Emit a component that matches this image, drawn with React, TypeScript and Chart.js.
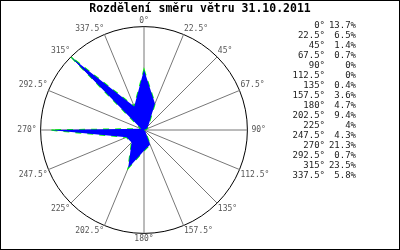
import { useEffect, useRef } from "react";
import { Chart, registerables } from "chart.js";

Chart.register(...registerables);

const chartTitle = "Rozdělení směru větru 31.10.2011";
const directions = ["0°", "22.5°", "45°", "67.5°", "90°", "112.5°", "135°", "157.5°", "180°", "202.5°", "225°", "247.5°", "270°", "292.5°", "315°", "337.5°"];
const shares = [13.7, 6.5, 1.4, 0.7, 0, 0, 0.4, 3.6, 4.7, 9.4, 4, 4.3, 21.3, 0.7, 23.5, 5.8];
const shareLabels = ["13.7%", "6.5%", "1.4%", "0.7%", "0%", "0%", "0.4%", "3.6%", "4.7%", "9.4%", "4%", "4.3%", "21.3%", "0.7%", "23.5%", "5.8%"];
const scaleMax = 23.5;

const MONO = "'DejaVu Sans Mono', monospace";

export default function App() {
  const canvasRef = useRef<HTMLCanvasElement | null>(null);

  useEffect(() => {
    document.body.style.margin = "0";
    const canvas = canvasRef.current;
    if (!canvas) return;
    const chart = new Chart(canvas, {
      type: "radar",
      data: {
        labels: directions,
        datasets: [
          {
            data: shares,
            fill: true,
            backgroundColor: "#0000ff",
            borderColor: "#0000ff",
            borderWidth: 0,
            pointRadius: 0,
            tension: 0,
          },
          {
            data: shares,
            fill: false,
            borderColor: "#00ff00",
            borderWidth: 1.5,
            borderDash: [6, 6],
            pointRadius: 0,
            tension: 0,
          },
        ],
      },
      options: {
        responsive: false,
        maintainAspectRatio: false,
        devicePixelRatio: 1,
        animation: false,
        events: [],
        layout: { padding: { left: 0, top: 16, right: 112, bottom: 6 } },
        plugins: {
          legend: { display: false },
          title: { display: false },
          tooltip: { enabled: false },
        },
        scales: {
          r: {
            min: 0,
            max: scaleMax,
            beginAtZero: true,
            ticks: { display: false, stepSize: scaleMax },
            grid: { circular: true, color: "#000000", lineWidth: 1 },
            angleLines: { display: true, color: "#777777", lineWidth: 1 },
            pointLabels: {
              display: true,
              color: "#555555",
              font: { family: MONO, size: 8 },
              padding: (ctx: any) => (ctx.index === 4 || ctx.index === 12 ? 4 : 1),
            },
          },
        },
      },
    });
    return () => chart.destroy();
  }, []);

  return (
    <div style={{ position: "relative", width: 400, height: 250, background: "#ffffff", overflow: "hidden" }}>
      <canvas ref={canvasRef} width={400} height={250} style={{ position: "absolute", left: 0, top: 0, width: 400, height: 250 }} />
      <div
        style={{
          position: "absolute",
          left: 0,
          top: 0,
          width: 400,
          textAlign: "center",
          font: `bold 11.5px ${MONO}`,
          lineHeight: "17px",
          color: "#000",
          whiteSpace: "pre",
        }}
      >
        {chartTitle}
      </div>
      {directions.map((d, i) => (
        <div key={d} style={{ position: "absolute", top: 20 + i * 10, left: 270, width: 90, height: 10, font: `9px ${MONO}`, lineHeight: "10px", color: "#222", whiteSpace: "pre" }}>
          <span style={{ position: "absolute", right: 35, top: 0 }}>{d}</span>
          <span style={{ position: "absolute", right: 4, top: 0 }}>{shareLabels[i]}</span>
        </div>
      ))}
      <div style={{ position: "absolute", left: 0, top: 0, width: 400, height: 250, boxSizing: "border-box", border: "1px solid #000", pointerEvents: "none" }} />
    </div>
  );
}
